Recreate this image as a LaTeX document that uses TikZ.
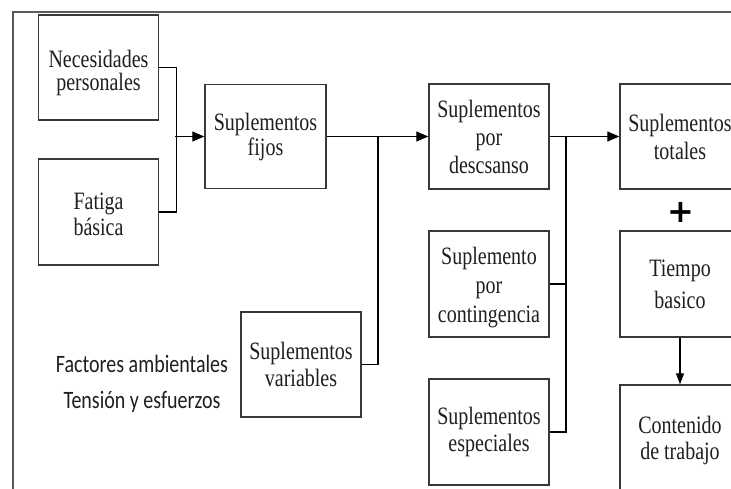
\documentclass[tikz,border=0pt]{standalone}
\usepackage{fontspec}
\setmainfont{Liberation Serif}[FakeStretch=0.8]
\newfontfamily\sansf{Carlito}[FakeStretch=0.8]
\newfontfamily\plusf{DejaVu Sans}
\usetikzlibrary{arrows.meta}
\begin{document}
\begin{tikzpicture}[x=1pt,y=-1pt,
  box/.style={draw=black!78, line width=1.4pt, minimum width=120pt, minimum height=105pt,
    inner sep=0pt, align=center, text=black!88},
  txt/.style={inner sep=0pt, align=center, text=black!88},
  ls/.style={font=\fontsize{25}{#1}\selectfont},
  conn/.style={line width=1.3pt, black},
  arr/.style={conn, -{Triangle[length=12pt,width=10pt]}},
  varr/.style={conn, -{Triangle[length=11pt,width=8pt]}}
]
\clip (0,0) rectangle (731,488);
\fill[white] (0,0) rectangle (731,488);
\draw[black!65, line width=1.3pt] (13,490) -- (13,12) -- (733,12);

\node[box] (nec) at (98.5,67.5) {};
\node[txt, ls=23] (nect) at ([yshift=-5pt]nec.center) {Necesidades\\personales};
\node[box, minimum height=106pt] (fat) at (98.5,212) {};
\node[txt, ls=26] (fatt) at ([yshift=-2pt]fat.center) {Fatiga\\básica};
\node[box, ls=25, minimum width=121pt, minimum height=104pt] (fijos) at (265.5,136.5) {Suplementos\\fijos};
\node[box, ls=28] (desc) at (489,136.5) {Suplementos\\por\\descsanso};
\node[box, ls=28] (tot) at (680,136.5) {Suplementos\\totales};
\node[box, minimum height=106pt] (cont) at (489,284) {};
\node[txt, ls=29] (contt) at ([yshift=-4pt]cont.center) {Suplemento\\por\\contingencia};
\node[box, ls=32, minimum height=106pt] (tb) at (680,284) {Tiempo\\basico};
\node[box] (con) at (680,437.5) {};
\node[txt, ls=26] (cont2) at ([yshift=-3pt]con.center) {Contenido\\de trabajo};
\node[box, ls=27, minimum height=106pt] (esp) at (489,432) {Suplementos\\especiales};
\node[box, ls=27] (var) at (301,364.5) {Suplementos\\variables};

\node[txt, font=\sansf\fontsize{25}{36}\selectfont] (fac) at (142,384) {Factores ambientales\\Tensión y esfuerzos};

\node[inner sep=0pt, font=\plusf\bfseries\fontsize{32}{32}\selectfont] (plus) at (681,212) {+};

\draw[conn] (nec.east) -- ++(17,0) |- (fat.east);
\coordinate (j1) at (175,136.5);
\draw[arr] (j1) -- (fijos.west);
\draw[arr] (fijos.east) -- (desc.west);
\coordinate (j2) at (378,136.5);
\draw[conn] (j2) |- (var.east);
\draw[arr] (desc.east) -- (tot.west);
\coordinate (j3) at (566,136.5);
\draw[conn] (j3) |- (esp.east);
\draw[conn] (cont.east) -- (cont.east -| j3);
\draw[varr] (tb.south) -- (con.north);
\end{tikzpicture}
\end{document}
